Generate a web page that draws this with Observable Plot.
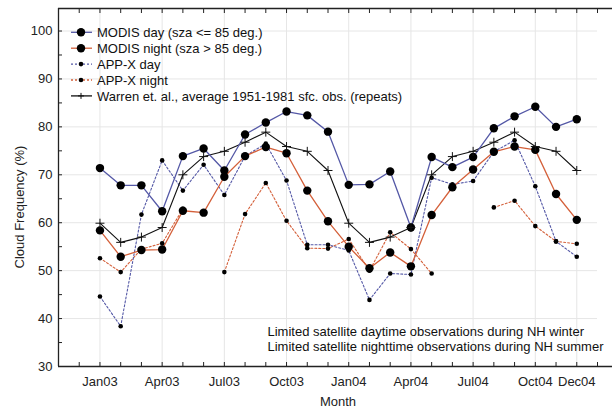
<!DOCTYPE html>
<html>
<head>
<meta charset="utf-8">
<script src="https://cdn.jsdelivr.net/npm/d3@7"></script>
<script src="https://cdn.jsdelivr.net/npm/@observablehq/plot@0.6"></script>
<style>
  html, body { margin: 0; padding: 0; background: #fff; }
  #wrap { position: relative; width: 612px; height: 409px; font-family: "Liberation Sans", Arial, sans-serif; }
  #overlay { position: absolute; left: 0; top: 0; pointer-events: none; }
</style>
</head>
<body>
<div id="wrap"></div>
<script>
// ---- data ----
const months = ["Jan03","Feb03","Mar03","Apr03","May03","Jun03","Jul03","Aug03","Sep03","Oct03","Nov03","Dec03",
                "Jan04","Feb04","Mar04","Apr04","May04","Jun04","Jul04","Aug04","Sep04","Oct04","Nov04","Dec04"];
const labeledMonths = ["Jan03","Apr03","Jul03","Oct03","Jan04","Apr04","Jul04","Oct04","Dec04"];
const modisDay   = [71.4,67.8,67.8,62.4,73.9,75.5,70.9,78.4,80.9,83.2,82.4,79.0,
                    67.9,68.0,70.7,59.0,73.7,71.6,73.7,79.7,82.2,84.2,80.0,81.6];
const modisNight = [58.4,52.9,54.3,54.4,62.5,62.1,69.6,73.9,75.8,74.5,66.7,60.3,
                    55.0,50.5,53.8,50.9,61.6,67.4,71.1,74.8,75.9,75.2,66.0,60.6];
const appxDay    = [44.6,38.4,61.7,73.0,66.7,72.1,65.8,73.9,76.5,68.8,55.4,55.4,
                    54.2,43.9,49.4,49.2,69.4,68.0,68.7,74.8,77.2,67.6,56.1,52.9];
const appxNight  = [52.6,49.7,54.5,55.7,62.9,null,49.7,61.8,68.3,60.4,54.7,54.6,
                    56.6,50.0,58.0,54.5,49.4,null,null,63.2,64.6,59.3,56.1,55.6];
const warrenYear = [59.9,55.9,57.0,59.0,70.0,73.8,74.9,76.8,78.9,75.9,74.9,70.9];
const warren     = [...warrenYear, ...warrenYear];  // repeats
const yTicks = [30,40,50,60,70,80,90,100];
const seriesNames = ["MODIS day (sza <= 85 deg.)","MODIS night (sza > 85 deg.)","APP-X day","APP-X night",
                     "Warren et. al., average 1951-1981 sfc. obs. (repeats)"];
const notes = ["Limited satellite daytime observations during NH winter",
               "Limited satellite nighttime observations during NH summer"];
const yTitle = "Cloud Frequency (%)";
const xTitle = "Month";

// ---- styling ----
const BLUE = "#5458a6", RED = "#d4603a";
const xLo = -2, xHi = 24, yLo = 30, yHi = 104.7;

const toRows = arr => arr.map((v, i) => ({i, v}));
const rDay = toRows(modisDay), rNight = toRows(modisNight),
      aDay = toRows(appxDay), aNight = toRows(appxNight), rW = toRows(warren);
const labeledIdx = labeledMonths.map(m => months.indexOf(m));

const chart = Plot.plot({
  width: 612, height: 409,
  marginLeft: 58, marginRight: 15, marginTop: 8, marginBottom: 43,
  style: {fontFamily: '"Liberation Sans", Arial, sans-serif', fontSize: "13px", background: "#fff", color: "#222"},
  x: {domain: [xLo, xHi], axis: null},
  y: {domain: [yLo, yHi], axis: null},
  marks: [
    // grid
    Plot.ruleY(yTicks.slice(1), {stroke: "#e6e6e6", strokeWidth: 1}),
    Plot.ruleX(labeledIdx, {stroke: "#e6e6e6", strokeWidth: 1}),
    // axis frame lines
    Plot.ruleY([yLo, yHi], {stroke: "#222", strokeWidth: 1.3, insetRight: -15}),
    Plot.ruleX([xLo], {stroke: "#222", strokeWidth: 1.3}),
    // inward ticks
    Plot.axisX({ticks: d3.range(-1, 25), tickSize: 4, dy: -4, tickFormat: () => "", label: null, strokeWidth: 1}),
    Plot.axisX({anchor: "top", ticks: d3.range(-1, 25), tickSize: 4, dy: 4, tickFormat: () => "", label: null, strokeWidth: 1}),
    Plot.axisY({ticks: d3.range(30, 105, 5), tickSize: 4, dx: 4, tickFormat: () => "", label: null, strokeWidth: 1}),
    // tick labels
    Plot.axisX({ticks: labeledIdx, tickSize: 0, tickPadding: 10, tickFormat: i => months[i], label: null, fontSize: 13, fill: "#222"}),
    Plot.axisY({ticks: yTicks, tickSize: 0, tickPadding: 6, label: null, fontSize: 13, fill: "#222"}),
    // annotations
    Plot.text([notes[0]], {frameAnchor: "bottom-left", textAnchor: "start", dx: 209, dy: -31, fontSize: 13, fill: "#111"}),
    Plot.text([notes[1]], {frameAnchor: "bottom-left", textAnchor: "start", dx: 209, dy: -16, fontSize: 13, fill: "#111"}),
    // series lines
    Plot.line(aNight, {x: "i", y: "v", stroke: RED, strokeWidth: 1.1, strokeDasharray: "2,2"}),
    Plot.line(aDay, {x: "i", y: "v", stroke: BLUE, strokeWidth: 1.1, strokeDasharray: "2,2"}),
    Plot.line(rW, {x: "i", y: "v", stroke: "#111", strokeWidth: 1.1}),
    Plot.line(rNight, {x: "i", y: "v", stroke: RED, strokeWidth: 1.3}),
    Plot.line(rDay, {x: "i", y: "v", stroke: BLUE, strokeWidth: 1.3}),
    // markers
    Plot.dot(aNight.filter(d => d.v != null), {x: "i", y: "v", r: 2.3, fill: "#000"}),
    Plot.dot(aDay, {x: "i", y: "v", r: 2.3, fill: "#000"}),
    Plot.dot(rNight, {x: "i", y: "v", r: 4.2, fill: "#000"}),
    Plot.dot(rDay, {x: "i", y: "v", r: 4.2, fill: "#000"}),
    Plot.dot(rW, {x: "i", y: "v", symbol: "plus", r: 3, stroke: "#111", strokeWidth: 1})
  ]
});

const wrap = document.getElementById("wrap");
wrap.appendChild(chart);

// overlay: legend (inside plot, top-left) and axis titles
const ov = d3.select(wrap).append("svg").attr("id", "overlay").attr("width", 612).attr("height", 409)
  .style("font-family", '"Liberation Sans", Arial, sans-serif').style("font-size", "13px");
ov.append("text").attr("transform", "translate(24,207) rotate(-90)").attr("text-anchor", "middle")
  .attr("fill", "#222").text(yTitle);
ov.append("text").attr("x", 338).attr("y", 406).attr("text-anchor", "middle").attr("fill", "#222").text(xTitle);

const legendSpec = [
  {stroke: BLUE, dash: null, r: 4.2, sym: "dot"},
  {stroke: RED, dash: null, r: 4.2, sym: "dot"},
  {stroke: BLUE, dash: "2,2", r: 2.3, sym: "dot"},
  {stroke: RED, dash: "2,2", r: 2.3, sym: "dot"},
  {stroke: "#111", dash: null, r: 3, sym: "plus"}
];
seriesNames.forEach((name, k) => {
  const s = legendSpec[k];
  const cy = 32.3 + k * 15.9;
  const g = ov.append("g").attr("transform", `translate(0,${cy})`);
  g.append("line").attr("x1", 71).attr("x2", 92).attr("y1", 0).attr("y2", 0)
    .attr("stroke", s.stroke).attr("stroke-width", 1.3).attr("stroke-dasharray", s.dash);
  if (s.sym === "dot") g.append("circle").attr("cx", 81).attr("cy", 0).attr("r", s.r).attr("fill", "#000");
  else g.append("path").attr("d", "M78,0H84M81,-3V3").attr("stroke", "#111");
  g.append("text").attr("x", 97).attr("y", 4.6).attr("fill", "#111").text(name);
});
</script>
</body>
</html>
